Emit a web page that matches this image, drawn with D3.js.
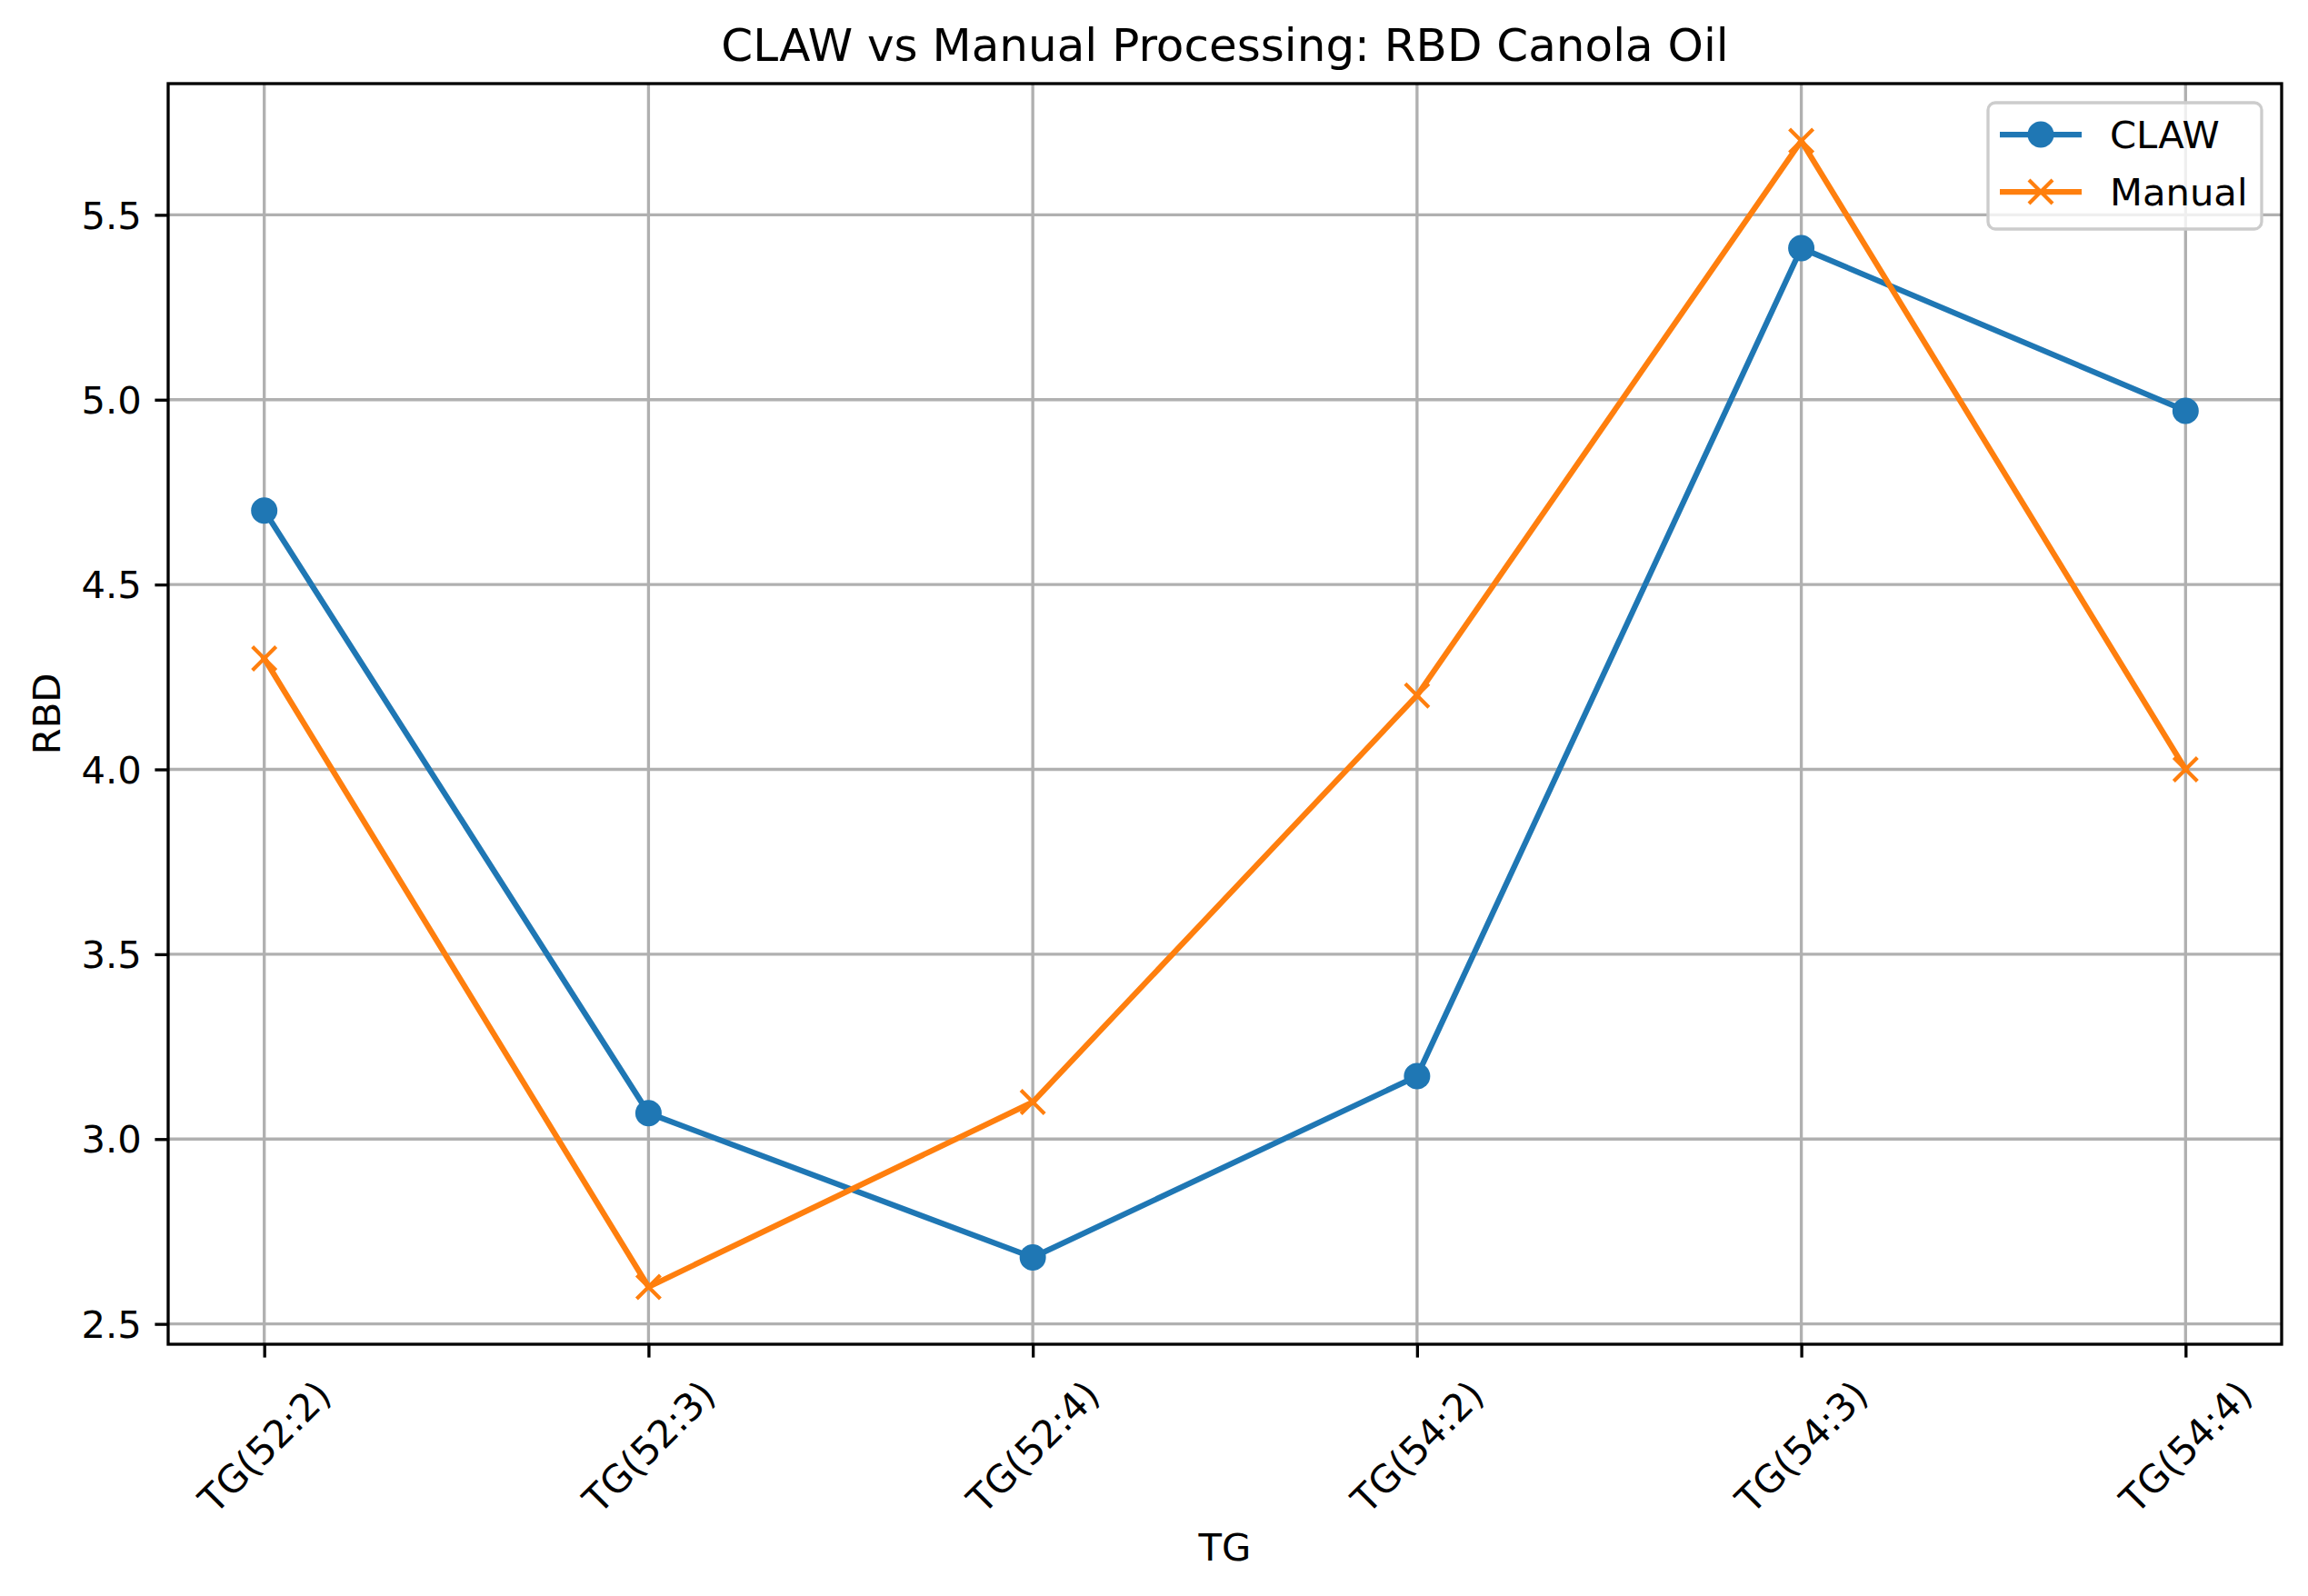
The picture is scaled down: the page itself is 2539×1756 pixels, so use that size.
<!DOCTYPE html>
<html>
<head>
<meta charset="utf-8">
<script src="https://cdn.jsdelivr.net/npm/d3@7/dist/d3.min.js"></script>
<style>
  html, body { margin: 0; padding: 0; background: #ffffff; }
  svg { display: block; }
  text { font-family: "DejaVu Sans", sans-serif; fill: #000; }
</style>
</head>
<body>
<script>
const categories = ["TG(52:2)", "TG(52:3)", "TG(52:4)", "TG(54:2)", "TG(54:3)", "TG(54:4)"];
const clawValues = [4.70, 3.07, 2.68, 3.17, 5.41, 4.97];
const manualValues = [4.30, 2.60, 3.10, 4.20, 5.70, 4.00];
const yTicks = [2.5, 3.0, 3.5, 4.0, 4.5, 5.0, 5.5];
const seriesNames = ["CLAW", "Manual"];
const seriesColors = ["#1f77b4", "#ff7f0e"];

const W = 2539, H = 1756;
const M = { left: 185, right: 2510, top: 92, bottom: 1479 };
const fs = 41.7;

const svg = d3.select("body").append("svg").attr("width", W).attr("height", H);

const n = categories.length;
const x = d3.scaleLinear().domain([-0.05 * (n - 1), (n - 1) * 1.05]).range([M.left, M.right]);
const allV = clawValues.concat(manualValues);
const vmin = d3.min(allV), vmax = d3.max(allV), pad = (vmax - vmin) * 0.05;
const y = d3.scaleLinear().domain([vmin - pad, vmax + pad]).range([M.bottom, M.top]);

// grid
const grid = svg.append("g");
grid.selectAll("line.gx").data(categories).join("line")
  .attr("x1", (d, i) => x(i)).attr("x2", (d, i) => x(i))
  .attr("y1", M.top).attr("y2", M.bottom)
  .attr("stroke", "#b0b0b0").attr("stroke-width", 3.33);
grid.selectAll("line.gy").data(yTicks).join("line")
  .attr("x1", M.left).attr("x2", M.right)
  .attr("y1", d => y(d)).attr("y2", d => y(d))
  .attr("stroke", "#b0b0b0").attr("stroke-width", 3.33);

// axes via d3
const xAxis = d3.axisBottom(x).tickValues(d3.range(n)).tickFormat(i => categories[i])
  .tickSizeInner(14.6).tickSizeOuter(0).tickPadding(14.6);
const gx = svg.append("g").attr("transform", `translate(0,${M.bottom})`).call(xAxis);
gx.select(".domain").remove();
gx.selectAll(".tick line").attr("stroke", "#000").attr("stroke-width", 3.33);
gx.selectAll(".tick text")
  .attr("font-size", fs)
  .attr("text-anchor", "middle")
  .attr("dominant-baseline", "central")
  .attr("y", null).attr("dy", null)
  .attr("transform", "translate(0,113) rotate(-45)");

const yAxis = d3.axisLeft(y).tickValues(yTicks).tickFormat(d3.format(".1f"))
  .tickSizeInner(14.6).tickSizeOuter(0).tickPadding(14.6);
const gy = svg.append("g").attr("transform", `translate(${M.left},0)`).call(yAxis);
gy.select(".domain").remove();
gy.selectAll(".tick line").attr("stroke", "#000").attr("stroke-width", 3.33);
gy.selectAll(".tick text").attr("font-size", fs).attr("dy", "0.35em");

// lines
const line = d3.line().x((d, i) => x(i)).y(d => y(d));
const dataSets = [clawValues, manualValues];
dataSets.forEach((vals, s) => {
  svg.append("path").datum(vals).attr("d", line)
    .attr("fill", "none").attr("stroke", seriesColors[s])
    .attr("stroke-width", 6.25).attr("stroke-linejoin", "round").attr("stroke-linecap", "square");
});
// markers
const cr = 14.5;
svg.append("g").selectAll("circle").data(clawValues).join("circle")
  .attr("cx", (d, i) => x(i)).attr("cy", d => y(d)).attr("r", cr)
  .attr("fill", seriesColors[0]);
const xm = 13;
const mg = svg.append("g").selectAll("g").data(manualValues).join("g")
  .attr("transform", (d, i) => `translate(${x(i)},${y(d)})`);
mg.append("path").attr("d", `M${-xm},${-xm}L${xm},${xm}M${-xm},${xm}L${xm},${-xm}`)
  .attr("stroke", seriesColors[1]).attr("stroke-width", 4.17).attr("fill", "none");

// spines
svg.append("rect").attr("x", M.left).attr("y", M.top)
  .attr("width", M.right - M.left).attr("height", M.bottom - M.top)
  .attr("fill", "none").attr("stroke", "#000").attr("stroke-width", 3.33);

// title & labels
svg.append("text").attr("x", (M.left + M.right) / 2).attr("y", 67)
  .attr("text-anchor", "middle").attr("font-size", 50).text("CLAW vs Manual Processing: RBD Canola Oil");
svg.append("text").attr("x", (M.left + M.right) / 2).attr("y", 1717)
  .attr("text-anchor", "middle").attr("font-size", fs).text("TG");
svg.append("text").attr("transform", `translate(66,${(M.top + M.bottom) / 2}) rotate(-90)`)
  .attr("text-anchor", "middle").attr("font-size", fs).text("RBD");

// legend
const lg = svg.append("g");
lg.append("rect").attr("x", 2187).attr("y", 113).attr("width", 301).attr("height", 139)
  .attr("rx", 8).attr("fill", "#ffffff").attr("fill-opacity", 0.8)
  .attr("stroke", "#cccccc").attr("stroke-width", 3.33);
const rowY = [148, 211];
seriesNames.forEach((name, s) => {
  lg.append("line").attr("x1", 2200).attr("x2", 2290).attr("y1", rowY[s]).attr("y2", rowY[s])
    .attr("stroke", seriesColors[s]).attr("stroke-width", 6.25);
  if (s === 0) {
    lg.append("circle").attr("cx", 2245).attr("cy", rowY[s]).attr("r", cr).attr("fill", seriesColors[s]);
  } else {
    lg.append("path").attr("transform", `translate(2245,${rowY[s]})`)
      .attr("d", `M${-xm},${-xm}L${xm},${xm}M${-xm},${xm}L${xm},${-xm}`)
      .attr("stroke", seriesColors[s]).attr("stroke-width", 4.17);
  }
  lg.append("text").attr("x", 2321).attr("y", rowY[s]).attr("dy", "0.35em")
    .attr("font-size", fs).text(name);
});
</script>
</body>
</html>
